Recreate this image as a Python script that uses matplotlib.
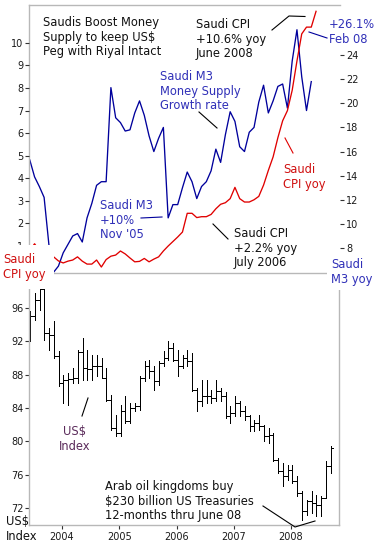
import matplotlib
matplotlib.use("Agg")
import matplotlib.pyplot as plt
from matplotlib.lines import Line2D
import numpy as np

plt.rcParams['font.family'] = ['DejaVu Sans']

# ---- data ----
# Saudi M3 money supply growth, % yoy (right axis), Jun 2003 .. May 2008
m3_yoy = [15.3, 13.9, 13.1, 12.2, 8.3, 6.0, 6.5,
          7.6, 8.3, 9.0, 9.2, 8.5, 10.5, 11.7, 13.2, 13.5, 13.5, 21.3, 18.8,
          18.4, 17.7, 17.8, 19.2, 20.2, 19.0, 17.3, 16.0, 17.1, 18.0, 10.5, 11.6,
          11.6, 13.0, 14.3, 13.5, 12.1, 13.1, 13.5, 14.4, 16.2, 15.1, 17.4, 19.3,
          18.5, 16.4, 16.0, 17.6, 18.0, 20.1, 21.5, 19.2, 20.2, 21.4, 21.6, 19.6,
          23.5, 26.1, 22.2, 19.4, 21.8]

# Saudi CPI, % yoy (left axis), Jun 2003 .. Jun 2008
cpi_yoy = [0.8, 1.1, 0.8, 0.35, 0.45, 0.52, 0.34,
           0.25, 0.33, 0.38, 0.52, 0.33, 0.2, 0.2, 0.38, 0.07, 0.4, 0.55, 0.6,
           0.78, 0.65, 0.47, 0.3, 0.32, 0.45, 0.3, 0.42, 0.52, 0.78, 1.0, 1.2,
           1.4, 1.62, 2.45, 2.45, 2.26, 2.3, 2.3, 2.4, 2.65, 2.85, 2.92, 3.1,
           3.6, 3.1, 2.95, 2.95, 3.05, 3.2, 3.7, 4.35, 4.95, 5.8, 6.55, 7.0,
           7.9, 9.2, 10.4, 10.7, 10.7, 11.4]

# US$ index monthly bars, Jun 2003 .. Sep 2008
usd_open = [93.8, 95.0, 97.0, 98.3, 93.0, 92.8, 90.2,
            87.0, 87.3, 87.5, 87.6, 90.7, 88.8, 88.7, 89.0, 89.0, 87.6, 84.9, 81.6,
            81.0, 83.6, 82.4, 84.0, 84.2, 87.6, 89.0, 88.4, 87.2, 89.4, 90.0, 91.2,
            89.8, 89.0, 90.0, 89.6, 86.2, 84.8, 85.4, 85.4, 85.2, 86.0, 85.4, 83.0,
            83.4, 84.6, 83.6, 83.0, 81.8, 82.2, 81.8, 80.6, 80.8, 77.8, 76.4, 75.8,
            76.6, 75.2, 73.8, 71.6, 72.8, 72.6, 72.4, 73.2, 77.0]
usd_high = [95.6, 97.8, 99.4, 99.3, 93.6, 94.4, 90.8,
            88.0, 88.2, 88.8, 90.9, 92.4, 91.0, 90.4, 90.4, 90.0, 88.8, 85.6, 83.2,
            84.4, 85.4, 84.6, 84.6, 87.8, 89.6, 89.8, 89.0, 89.6, 90.8, 92.0, 91.8,
            91.0, 90.4, 91.0, 90.6, 86.4, 87.4, 87.4, 86.2, 87.4, 86.4, 85.9, 84.2,
            85.4, 84.8, 84.2, 83.2, 82.6, 83.2, 82.0, 81.6, 81.0, 78.0, 77.4, 77.2,
            77.2, 75.8, 74.0, 73.0, 74.0, 73.6, 73.4, 77.6, 79.4]
usd_low = [92.0, 94.6, 95.8, 92.2, 91.0, 90.0, 86.6,
           84.6, 84.4, 87.0, 87.0, 87.4, 87.4, 87.4, 87.8, 87.6, 84.8, 81.4, 80.6,
           80.6, 82.2, 82.2, 83.6, 83.8, 87.2, 87.6, 86.2, 86.8, 89.0, 89.8, 89.6,
           87.8, 88.8, 89.0, 86.0, 83.6, 84.2, 84.6, 84.6, 84.8, 84.8, 82.8, 82.2,
           83.0, 83.0, 82.6, 81.2, 81.2, 81.4, 80.0, 79.8, 77.6, 76.2, 74.6, 75.4,
           75.0, 73.4, 70.6, 71.2, 71.4, 71.0, 71.0, 73.2, 76.2]
usd_close = [95.0, 97.0, 98.3, 93.0, 92.8, 90.2, 87.0,
             87.3, 87.5, 87.6, 90.7, 88.8, 88.7, 89.0, 89.0, 87.6, 84.9, 81.6, 81.0,
             83.6, 82.4, 84.0, 84.2, 87.6, 89.0, 88.4, 87.2, 89.4, 90.0, 91.2, 89.8,
             89.0, 90.0, 89.6, 86.2, 84.8, 85.4, 85.4, 85.2, 86.0, 85.4, 83.0, 83.4,
             84.6, 83.6, 83.0, 81.8, 82.2, 81.8, 80.6, 80.8, 77.8, 76.4, 75.8, 76.6,
             75.2, 73.8, 71.6, 72.8, 72.6, 72.4, 73.2, 77.0, 79.2]

years = [2004, 2005, 2006, 2007, 2008]
cpi_ticks = list(range(1, 11))
m3_ticks = list(range(8, 25, 2))
usd_ticks = list(range(72, 97, 4))


def month_axis(start_year, start_month, n, frac):
    out = []
    y, m = start_year, start_month
    for i in range(n):
        out.append(y + (m - 1 + frac) / 12.0)
        m += 1
        if m > 12:
            m = 1
            y += 1
    return np.array(out)


x_m3 = month_axis(2003, 6, len(m3_yoy), 0.25)
x_cpi = month_axis(2003, 6, len(cpi_yoy), 0.25)
x_usd = month_axis(2003, 6, len(usd_open), 0.3)

# ---- layout helpers (pixels of the 378x544 picture) ----
W, H = 378.0, 544.0


def fx(x):
    return x / W


def fy(y):
    return 1 - y / H


def rect(x0, y0, x1, y1):
    return [fx(x0), fy(y1), (x1 - x0) / W, (y1 - y0) / H]


GRAY = '#b8b8b8'
BLUE = '#00009c'
BLUE_TXT = '#3030b8'
RED = '#e00000'
RED_TXT = '#d01010'
TICK_TXT = '#1a1a1a'

fig = plt.figure(figsize=(3.78, 5.44), dpi=100)
fig.patch.set_facecolor('white')

# ---- top panel: M3 (right axis) and CPI (left axis) ----
ax_m3 = fig.add_axes(rect(29, 5, 340, 273))
ax_m3.plot(x_m3, m3_yoy, color=BLUE, lw=0.95)
ax_m3.set_xlim(2003.4236, 2008.856)
ax_m3.set_ylim(5.93, 28.15)

ax_cpi = ax_m3.twinx()
ax_cpi.plot(x_cpi, cpi_yoy, color=RED, lw=0.95)
ax_cpi.set_ylim(-0.195, 11.68)

ax_m3.yaxis.tick_right()
ax_m3.set_yticks(m3_ticks)
ax_m3.tick_params(axis='y', direction='out', length=3, width=0.8, pad=1.5,
                  labelsize=7, labelcolor=TICK_TXT, color='#333333')
ax_cpi.yaxis.tick_left()
ax_cpi.set_yticks(cpi_ticks)
ax_cpi.tick_params(axis='y', direction='out', length=3, width=0.8, pad=1,
                   labelsize=7, labelcolor=TICK_TXT, color='#333333')
for a in (ax_m3, ax_cpi):
    a.tick_params(axis='x', bottom=False, labelbottom=False, top=False)

for s in ax_cpi.spines.values():
    s.set_visible(False)
ax_m3.spines['right'].set_visible(False)
for k in ('left', 'top', 'bottom'):
    ax_m3.spines[k].set_color(GRAY)
    ax_m3.spines[k].set_linewidth(1.0)

# ---- bottom panel: US$ index bars ----
ax_usd = fig.add_axes(rect(29, 283, 339, 525))
d = 0.05
bar_kw = dict(color='black', lw=0.6, antialiased=False)
ax_usd.vlines(x_usd, usd_low, usd_high, **bar_kw)
ax_usd.hlines(usd_open, x_usd - d, x_usd, **bar_kw)
ax_usd.hlines(usd_close, x_usd, x_usd + d, **bar_kw)
ax_usd.set_xlim(2003.4236, 2008.838)
ax_usd.set_ylim(69.96, 99.0)
ax_usd.set_xticks(years)
ax_usd.set_xticklabels([str(y) for y in years])
ax_usd.set_yticks(usd_ticks)
ax_usd.tick_params(direction='out', length=3, width=0.8, pad=1,
                   labelsize=7, labelcolor=TICK_TXT, color='#333333')
ax_usd.tick_params(axis='x', pad=2)
ax_usd.spines['top'].set_visible(False)
for k in ('left', 'bottom', 'right'):
    ax_usd.spines[k].set_color(GRAY)
    ax_usd.spines[k].set_linewidth(1.0)
ax_usd.spines['right'].set_bounds(69.96, 98.2)

# ---- texts ----
FS = 8.3


def label(x, y, s, color='#111111', **kw):
    fig.text(fx(x), fy(y), s, fontsize=FS, color=color, va='top',
             ha=kw.pop('ha', 'left'), linespacing=1.17, **kw)


def leader(pts, color='black'):
    xs = [fx(p[0]) for p in pts]
    ys = [fy(p[1]) for p in pts]
    fig.add_artist(Line2D(xs, ys, transform=fig.transFigure, color=color, lw=0.8))


label(43, 16, 'Saudis Boost Money\nSupply to keep US$\nPeg with Riyal Intact')
label(160, 70, 'Saudi M3\nMoney Supply\nGrowth rate', color=BLUE_TXT)
label(196, 18, 'Saudi CPI\n+10.6% yoy\nJune 2008')
label(329, 18, '+26.1%\nFeb 08', color=BLUE_TXT)
label(100, 199, "Saudi M3\n+10%\nNov '05", color=BLUE_TXT)
label(234, 227, 'Saudi CPI\n+2.2% yoy\nJuly 2006')
label(283, 163, 'Saudi\nCPI yoy', color=RED_TXT)
label(3, 253, 'Saudi\nCPI yoy', color=RED_TXT,
      bbox=dict(facecolor='white', edgecolor='none', pad=6))
label(331, 258, 'Saudi\nM3 yoy', color=BLUE_TXT,
      bbox=dict(facecolor='white', edgecolor='none', pad=3))
label(75, 425, 'US$\nIndex', color='#5a2a5a', ha='center')
label(105, 480, 'Arab oil kingdoms buy\n$230 billion US Treasuries\n12-months thru June 08')
label(6, 515, 'US$\nIndex')

leader([(199, 112), (217, 128)])
leader([(272, 30), (289, 16), (305, 16.5)])
leader([(309, 32), (327, 38)], color=BLUE)
leader([(141, 218), (162, 217)], color=BLUE)
leader([(213, 224), (228, 239)])
leader([(285, 138), (293, 153)], color=RED)
leader([(82, 416), (88, 398)])
leader([(263, 506), (295, 527), (315, 521)])

fig.savefig('out.png', dpi=100)
